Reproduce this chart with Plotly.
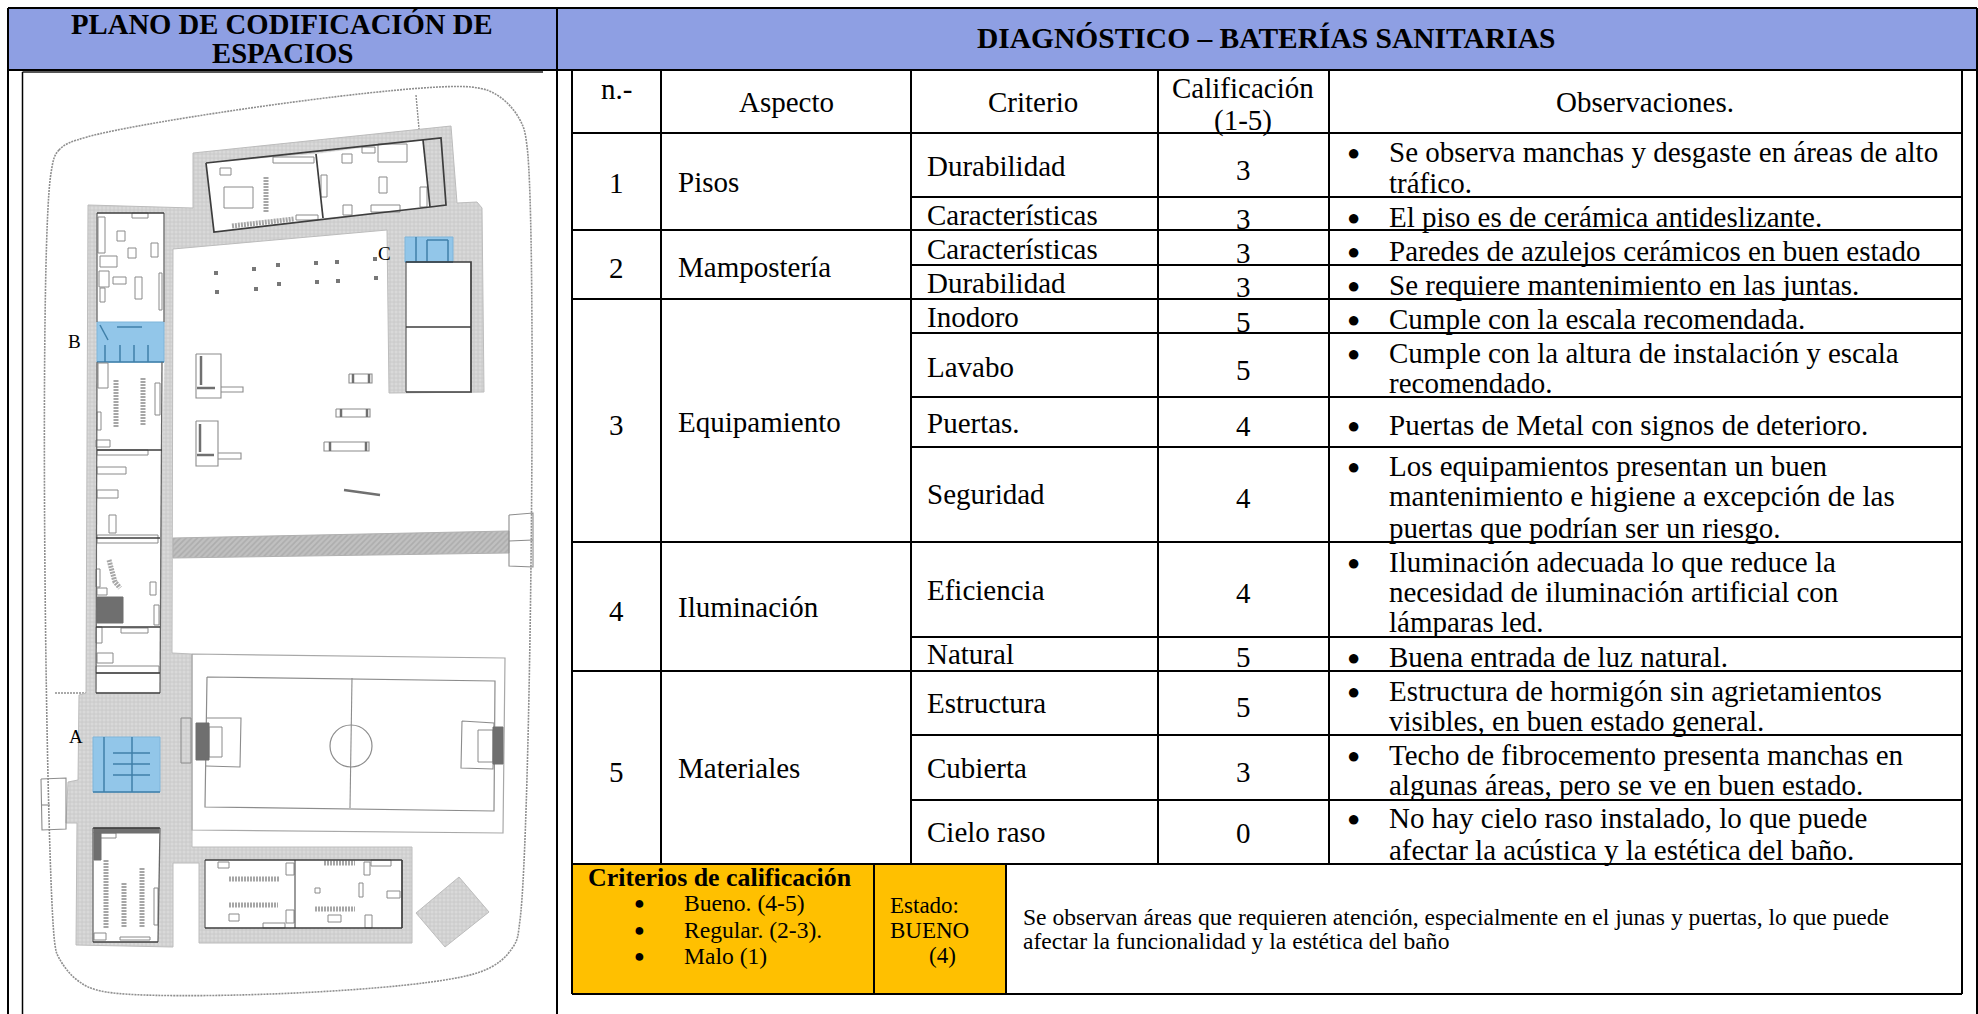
import plotly.graph_objects as go

WIDTH, HEIGHT = 1978, 1014
BODY = "Liberation Serif"
GRID = "#000000"
HEADER_BLUE = "#8E9FE3"
ORANGE = "#FFC000"
BULLET = "●"

# ---------- table text ----------
header_left = ["PLANO DE CODIFICACIÓN DE", "ESPACIOS"]
header_right = "DIAGNÓSTICO – BATERÍAS SANITARIAS"
column_titles = ["n.-", "Aspecto", "Criterio", "Calificación", "(1-5)", "Observaciones."]
numbers = ["1", "2", "3", "4", "5"]
aspects = ["Pisos", "Mampostería", "Equipamiento", "Iluminación", "Materiales"]
criteria = ["Durabilidad", "Características", "Características", "Durabilidad", "Inodoro", "Lavabo",
            "Puertas.", "Seguridad", "Eficiencia", "Natural", "Estructura", "Cubierta", "Cielo raso"]
scores = [3, 3, 3, 3, 5, 5, 4, 4, 4, 5, 5, 3, 0]
observations = [
    ["Se observa manchas y desgaste en áreas de alto", "tráfico."],
    ["El piso es de cerámica antideslizante."],
    ["Paredes de azulejos cerámicos en buen estado"],
    ["Se requiere mantenimiento en las juntas."],
    ["Cumple con la escala recomendada."],
    ["Cumple con la altura de instalación y escala", "recomendado."],
    ["Puertas de Metal con signos de deterioro."],
    ["Los equipamientos presentan un buen", "mantenimiento e higiene a excepción de las", "puertas que podrían ser un riesgo."],
    ["Iluminación adecuada lo que reduce la", "necesidad de iluminación artificial con", "lámparas led."],
    ["Buena entrada de luz natural."],
    ["Estructura de hormigón sin agrietamientos", "visibles, en buen estado general."],
    ["Techo de fibrocemento presenta manchas en", "algunas áreas, pero se ve en buen estado."],
    ["No hay cielo raso instalado, lo que puede", "afectar la acústica y la estética del baño."],
]
rating_title = "Criterios de calificación"
rating_items = ["Bueno. (4-5)", "Regular. (2-3).", "Malo (1)"]
state_lines = ["Estado:", "BUENO", "(4)"]
summary_lines = ["Se observan áreas que requieren atención, especialmente en el junas y puertas, lo que puede",
                 "afectar la funcionalidad y la estética del baño"]
plan_labels = ["A", "B", "C"]

# ---------- table layout ----------
col_edges = [572, 661, 911, 1158, 1329, 1962]
row_edges = [133, 197, 230, 265, 299, 333, 397, 447, 542, 637, 671, 735, 800, 864]
group_edges = [133, 230, 299, 542, 671, 864]
bottom_edges = [874, 1006]
TOP, HEAD_BOTTOM, TABLE_BOTTOM = 8, 70, 994
OUTER_LEFT, OUTER_MID, OUTER_RIGHT = 8, 557, 1977
criteria_y = [166, 215, 249, 283, 317, 367, 423, 494, 590, 654, 703, 768, 832]
score_y = [170, 219, 253, 287, 322, 370, 426, 498, 593, 657, 707, 772, 833]
number_y = [183, 268, 425, 611, 772]
aspect_y = [182, 267, 422, 607, 768]
observation_y = [[152, 183], [217], [251], [285], [319], [353, 383], [425], [466, 496, 528],
                 [562, 592, 622], [657], [691, 721], [755, 785], [818, 850]]

# ---------- floor plan geometry ----------
boundary_x = [51, 59, 87, 471, 500, 520, 527, 520, 513, 480, 106, 77, 59, 55, 51]
boundary_y = [173, 150, 137, 87, 97, 120, 146, 920, 947, 972, 992, 980, 958, 945, 173]
walkway = [(193, 153), (451, 126), (457, 203), (477, 202), (482, 208), (484, 392), (389, 393), (387, 230),
           (173, 249), (172, 653), (192, 654), (192, 847), (412, 847), (412, 943), (199, 943), (199, 863),
           (173, 863), (173, 947), (76, 945), (77, 823), (66, 823), (68, 782), (78, 780), (79, 695),
           (86, 693), (88, 205), (193, 208)]
diamond = [(459, 877), (489, 912), (445, 947), (416, 913)]
strip = [(173, 538), (509, 531), (509, 553), (173, 558)]
white_rooms = [
    [(206, 163), (316, 154), (323, 218), (214, 232)],
    [(316, 154), (423, 140), (430, 207), (323, 218)],
    [(97, 213), (164, 213), (164, 322), (97, 322)],
    [(97, 362), (164, 362), (162, 450), (97, 450)],
    [(97, 450), (162, 450), (160, 538), (97, 538)],
    [(96, 538), (160, 538), (160, 627), (96, 627)],
    [(96, 627), (160, 627), (160, 673), (96, 673)],
    [(96, 673), (160, 673), (160, 693), (96, 693)],
    [(406, 262), (471, 262), (471, 327), (406, 327)],
    [(406, 327), (471, 327), (471, 392), (406, 392)],
    [(93, 828), (160, 828), (158, 942), (93, 942)],
    [(205, 860), (295, 860), (295, 928), (205, 928)],
    [(295, 860), (402, 860), (402, 928), (295, 928)],
]
blue_rooms = [
    [(97, 322), (164, 322), (164, 362), (97, 362)],
    [(93, 737), (160, 737), (160, 792), (93, 792)],
    [(405, 237), (453, 237), (453, 262), (405, 262)],
]
blue_lines = [
    [(104, 737), (104, 792)], [(132, 737), (132, 792)],
    [(113, 753), (150, 753)], [(113, 764), (150, 764)], [(113, 775), (150, 775)],
    [(93, 792), (160, 792)],
    [(120, 345), (120, 362)], [(134, 345), (134, 362)], [(148, 345), (148, 362)], [(105, 345), (105, 362)],
    [(97, 362), (164, 362)], [(100, 325), (108, 340)], [(117, 327), (142, 327)],
    [(416, 237), (416, 262)], [(427, 240), (427, 262)], [(427, 240), (448, 240)], [(448, 240), (448, 262)],
    [(405, 262), (453, 262)],
]
field_outer = [(192, 654), (505, 658), (503, 833), (192, 830), (192, 654)]
field_inner = [(207, 677), (495, 681), (494, 811), (205, 807), (207, 677)]
field_lines = [
    [(352, 678), (350, 808)],
    [(207, 718), (241, 718), (240, 767), (206, 766)],
    [(462, 721), (494, 723), (493, 769), (461, 768), (462, 721)],
    [(509, 515), (533, 513), (533, 567), (509, 566), (509, 515)],
    [(41, 779), (66, 778), (66, 829), (42, 830), (41, 779)],
    [(41, 805), (50, 805)],
    [(533, 540), (509, 541)],
    [(196, 354), (221, 354), (221, 398), (196, 398), (196, 354)],
    [(221, 387), (243, 387), (243, 392), (221, 392)],
    [(196, 421), (218, 421), (218, 466), (196, 466), (196, 421)],
    [(218, 453), (241, 453), (241, 459), (218, 459)],
    [(349, 374), (372, 374), (372, 383), (349, 383), (349, 374)],
    [(336, 409), (370, 409), (370, 417), (336, 417), (336, 409)],
    [(324, 442), (369, 442), (369, 451), (324, 451), (324, 442)],
]
thick_marks = [
    [(344, 490), (380, 495)],
    [(201, 356), (201, 385)], [(200, 424), (200, 452)], [(197, 388), (215, 388)], [(197, 455), (214, 455)],
    [(353, 374), (353, 383)], [(369, 374), (369, 383)], [(341, 409), (341, 417)], [(367, 409), (367, 417)],
    [(330, 442), (330, 451)], [(366, 442), (366, 451)],
]
circle_center = (351, 746)
circle_radius = 21
dark_walls = [
    [(206, 163), (423, 140), (441, 138), (446, 205), (430, 207), (214, 232), (206, 163)],
    [(316, 154), (323, 218)], [(423, 140), (430, 207)],
    [(406, 262), (471, 262), (471, 392), (406, 392)], [(406, 327), (471, 327)],
    [(93, 828), (160, 828)], [(93, 942), (158, 942)],
    [(205, 860), (402, 860)], [(205, 928), (402, 928)], [(402, 860), (402, 928)],
    [(97, 450), (162, 450)], [(96, 538), (160, 538)], [(96, 627), (160, 627)], [(96, 673), (160, 673)],
    [(96, 693), (160, 693)], [(97, 213), (164, 213)],
]
soft_walls = [
    [(97, 213), (97, 322)], [(164, 213), (164, 322)], [(97, 362), (96, 693)], [(162, 362), (160, 693)],
    [(406, 262), (406, 392)], [(93, 828), (93, 942)], [(160, 828), (158, 942)],
    [(205, 860), (205, 928)], [(295, 860), (295, 928)],
]
furniture = [
    (100, 256, 117, 267), (99, 271, 109, 287), (135, 277, 142, 299), (151, 243, 158, 257), (98, 217, 105, 253),
    (113, 277, 126, 284), (100, 288, 105, 302), (132, 213, 148, 218), (159, 273, 162, 310),
    (155, 383, 160, 415), (98, 363, 108, 388), (96, 440, 110, 447), (97, 412, 101, 430),
    (97, 450, 148, 455), (97, 467, 126, 474), (97, 490, 118, 498), (109, 515, 116, 533), (97, 535, 158, 543),
    (97, 588, 107, 595), (96, 569, 100, 587), (150, 582, 156, 595), (154, 605, 159, 625),
    (96, 627, 102, 643), (121, 628, 148, 633), (97, 653, 113, 663), (96, 666, 159, 673),
    (97, 833, 116, 838), (154, 888, 158, 925), (120, 937, 150, 940), (94, 933, 106, 940),
    (218, 862, 229, 868), (286, 863, 294, 875), (286, 910, 294, 923), (229, 914, 239, 921), (263, 923, 285, 928),
    (364, 862, 370, 875), (365, 915, 372, 928), (387, 891, 400, 898), (328, 915, 341, 922), (371, 860, 391, 866),
    (359, 883, 363, 897), (315, 888, 320, 893),
    (224, 187, 253, 208), (273, 157, 314, 163), (296, 215, 318, 220), (220, 168, 231, 175),
    (342, 154, 352, 163), (362, 147, 375, 153), (378, 144, 407, 162), (379, 177, 387, 193), (343, 205, 352, 215),
    (371, 205, 400, 212), (420, 187, 427, 207), (321, 175, 327, 197),
    (209, 727, 222, 757), (478, 730, 493, 762), (181, 718, 191, 763),
    (117, 231, 125, 241), (128, 248, 136, 258),
]
dark_blocks = [(97, 597, 123, 623), (94, 832, 101, 860), (94, 828, 159, 833), (196, 723, 209, 760), (493, 727, 503, 764)]
seat_rows = [
    [(116, 380), (116, 427)], [(143, 378), (143, 425)],
    [(106, 860), (106, 928)], [(124, 883), (124, 928)], [(142, 868), (142, 928)],
    [(229, 879), (280, 879)], [(229, 905), (278, 905)], [(315, 909), (355, 909)], [(324, 863), (355, 863)],
    [(266, 177), (266, 212)], [(232, 226), (294, 219)], [(109, 560), (115, 582), (120, 588)],
]
court_dots_x = [216, 217, 254, 256, 278, 279, 316, 317, 337, 338, 375, 376]
court_dots_y = [273, 292, 269, 289, 265, 284, 263, 282, 262, 281, 259, 278]
plan_label_x = [76, 74, 384]
plan_label_y = [736, 341, 253]

fig = go.Figure()


def poly(points, fill=None, line="#888888", width=1, pattern=None, dash=None, close=True):
    xs = [p[0] for p in points]
    ys = [p[1] for p in points]
    if close and fill:
        xs.append(xs[0])
        ys.append(ys[0])
    kw = dict(x=xs, y=ys, mode="lines", hoverinfo="skip", showlegend=False,
              line=dict(color=line, width=width, dash=dash))
    if fill:
        kw.update(fill="toself", fillcolor=fill)
    if pattern:
        kw.update(fillpattern=pattern)
    fig.add_trace(go.Scatter(**kw))


def box(rect, fill=None, line="#8a8a8a", width=1):
    x0, y0, x1, y1 = rect
    poly([(x0, y0), (x1, y0), (x1, y1), (x0, y1), (x0, y0)], fill=fill, line=line, width=width)


MESH = dict(shape="+", size=4, solidity=0.35, fgcolor="#b2b2b2", bgcolor="#d9d9d9")
HATCH = dict(shape="/", size=4, solidity=0.4, fgcolor="#9a9a9a", bgcolor="#c0c0c0")

fig.add_trace(go.Scatter(x=boundary_x, y=boundary_y, mode="lines", hoverinfo="skip", showlegend=False,
                         line=dict(color="#8f8f8f", width=1.6, dash="2px,1px"), line_shape="spline"))
poly([(416, 95), (420, 140)], line="#8f8f8f", width=1.4, dash="2px,1px")
poly([(55, 693), (86, 693)], line="#8f8f8f", width=1.4, dash="2px,1px")
poly(walkway, fill="#d5d5d5", line="#bcbcbc", pattern=MESH)
poly(diamond, fill="#d5d5d5", line="#bcbcbc", pattern=MESH)
poly(strip, fill="#bdbdbd", line="#b0b0b0", pattern=HATCH)
for room in white_rooms:
    poly(room, fill="#ffffff", line="#ffffff", width=0.5)
for room in blue_rooms:
    poly(room, fill="#92C6E9", line="#7fb5da")
for seg_pts in blue_lines:
    poly(seg_pts, line="#3f7fa8", width=1.5)
poly(field_outer, line="#a8a8a8", width=1.2)
poly(field_inner, line="#8c8c8c", width=1.2)
for seg_pts in field_lines:
    poly(seg_pts, line="#8c8c8c", width=1.1)
for seg_pts in thick_marks:
    poly(seg_pts, line="#707070", width=2.5)
for r in furniture:
    box(r)
for r in dark_blocks:
    box(r, fill="#6f6f6f", line="#6f6f6f")
for seg_pts in seat_rows:
    poly(seg_pts, line="#a6a6a6", width=5, dash="2px,1px")
for seg_pts in soft_walls:
    poly(seg_pts, line="#666666", width=1.3)
for seg_pts in dark_walls:
    poly(seg_pts, line="#3d3d3d", width=1.7)
fig.add_trace(go.Scatter(x=court_dots_x, y=court_dots_y, mode="markers", hoverinfo="skip", showlegend=False,
                         marker=dict(color="#777777", size=4, symbol="square")))

# ---------- shapes ----------
shapes = []


def rect(x0, y0, x1, y1, fill):
    shapes.append(dict(type="rect", x0=x0, y0=y0, x1=x1, y1=y1, fillcolor=fill, line_width=0, layer="below"))


def seg(x0, y0, x1, y1, w=2, color=GRID):
    shapes.append(dict(type="line", x0=x0, y0=y0, x1=x1, y1=y1, line=dict(color=color, width=w), layer="above"))


rect(OUTER_LEFT, TOP, OUTER_RIGHT, HEAD_BOTTOM, HEADER_BLUE)
rect(col_edges[0], row_edges[-1], bottom_edges[1], TABLE_BOTTOM, ORANGE)
seg(OUTER_LEFT, TOP, OUTER_RIGHT, TOP)
seg(OUTER_LEFT, HEAD_BOTTOM, OUTER_RIGHT, HEAD_BOTTOM)
seg(OUTER_LEFT, TOP, OUTER_LEFT, HEIGHT)
seg(OUTER_MID, TOP, OUTER_MID, HEIGHT)
seg(OUTER_RIGHT, TOP, OUTER_RIGHT, HEIGHT)
seg(22.5, 72, 543, 72, 2, "#555555")
seg(22.5, 72, 22.5, HEIGHT, 1.5)
for x in [col_edges[0], col_edges[-1]]:
    seg(x, HEAD_BOTTOM, x, TABLE_BOTTOM)
for x in col_edges[1:-1]:
    seg(x, HEAD_BOTTOM, x, row_edges[-1])
for y in row_edges[1:-1]:
    if y not in group_edges:
        seg(col_edges[2], y, col_edges[-1], y)
for y in group_edges:
    seg(col_edges[0], y, col_edges[-1], y)
seg(col_edges[0], TABLE_BOTTOM, col_edges[-1], TABLE_BOTTOM)
for x in bottom_edges:
    seg(x, row_edges[-1], x, TABLE_BOTTOM)
shapes.append(dict(type="circle", x0=circle_center[0] - circle_radius, x1=circle_center[0] + circle_radius,
                   y0=circle_center[1] - circle_radius, y1=circle_center[1] + circle_radius,
                   line=dict(color="#8c8c8c", width=1.2), layer="above"))

# ---------- text ----------
notes = []


def text(x, y, s, size=25, anchor="center", bold=False, font=BODY):
    notes.append(dict(x=x, y=y, xref="x", yref="y", text=f"<b>{s}</b>" if bold else s, showarrow=False,
                      xanchor=anchor, yanchor="middle",
                      font=dict(family=font, size=size, color="#000000")))


text(282, 24, header_left[0], 28.7, bold=True)
text(282, 53, header_left[1], 28.7, bold=True)
text(1266, 38, header_right, 29.5, bold=True)
S = 29
text(616, 89, column_titles[0], S)
text(786, 102, column_titles[1], S)
text(1033, 102, column_titles[2], S)
text(1243, 88, column_titles[3], S)
text(1243, 120, column_titles[4], S)
text(1645, 102, column_titles[5], S)
for n, y in zip(numbers, number_y):
    text(616, y, n, S)
for a, y in zip(aspects, aspect_y):
    text(676, y, a, S, "left")
for c, y in zip(criteria, criteria_y):
    text(925, y, c, S, "left")
for v, y in zip(scores, score_y):
    text(1243, y, str(v), S)
for lines, ys in zip(observations, observation_y):
    text(1353, ys[0], BULLET, 22)
    for line, y in zip(lines, ys):
        text(1387, y, line, S, "left")
text(586, 877, rating_title, 25.9, "left", bold=True)
for item, y in zip(rating_items, [903, 930, 956]):
    text(639, y, BULLET, 18)
    text(682, y, item, 23.6, "left")
text(888, 905, state_lines[0], 23, "left")
text(888, 930, state_lines[1], 23, "left")
text(927, 955, state_lines[2], 23, "left")
text(1021, 917, summary_lines[0], 23.6, "left")
text(1021, 941, summary_lines[1], 23.6, "left")
for lab, x, y in zip(plan_labels, plan_label_x, plan_label_y):
    text(x, y, lab, 19)

fig.update_layout(
    width=WIDTH, height=HEIGHT, margin=dict(l=0, r=0, t=0, b=0), paper_bgcolor="white", plot_bgcolor="white",
    xaxis=dict(range=[0, WIDTH], visible=False, fixedrange=True),
    yaxis=dict(range=[HEIGHT, 0], visible=False, fixedrange=True),
    shapes=shapes, annotations=notes, showlegend=False,
)
fig.write_html("out.html", config=dict(displayModeBar=False),
               post_script="document.body.style.margin='0';document.body.style.overflow='hidden';")
